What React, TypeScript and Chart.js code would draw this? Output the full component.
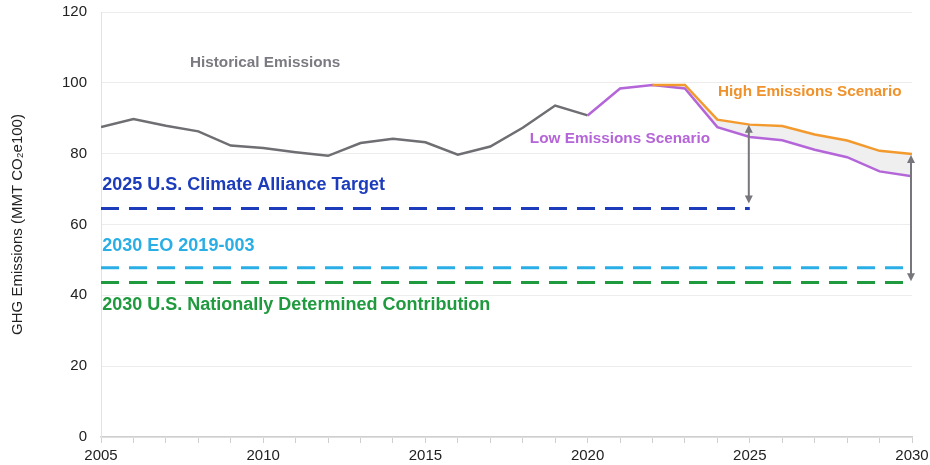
import React, { useEffect, useRef } from 'react';
import { Chart, registerables } from 'chart.js';

Chart.register(...registerables);

// ---- data ----
const historicalYears = [2005, 2006, 2007, 2008, 2009, 2010, 2011, 2012, 2013, 2014, 2015, 2016, 2017, 2018, 2019, 2020];
const historicalValues = [87.5, 89.8, 87.9, 86.3, 82.3, 81.6, 80.4, 79.4, 83.0, 84.2, 83.2, 79.7, 82.0, 87.3, 93.6, 90.8];

const lowYears = [2020, 2021, 2022, 2023, 2024, 2025, 2026, 2027, 2028, 2029, 2030];
const lowValues = [90.8, 98.4, 99.4, 98.4, 87.5, 84.7, 83.8, 81.1, 79.0, 75.0, 73.6];

const highYears = [2022, 2023, 2024, 2025, 2026, 2027, 2028, 2029, 2030];
const highValues = [99.4, 99.4, 89.6, 88.2, 87.8, 85.4, 83.7, 80.8, 79.9];

const seriesNames = ['Historical Emissions', 'High Emissions Scenario', 'Low Emissions Scenario'];

const targetNames = ['2025 U.S. Climate Alliance Target', '2030 EO 2019-003', '2030 U.S. Nationally Determined Contribution'];
const targetValues = [64.5, 47.8, 43.6];
const targetStartYear = 2005;
const targetEndYears = [2025, 2030, 2030];

const gapYears = [2025, 2030];
const gapTops = [88.2, 79.6];
const gapBottoms = [65.9, 44.0];

const yTicks = [0, 20, 40, 60, 80, 100, 120];
const xLabelYears = [2005, 2010, 2015, 2020, 2025, 2030];

// ---- styling / placement (not data) ----
const COLORS = {
  historical: '#6e6e73',
  high: '#f39a2f',
  low: '#b466d9',
  fill: '#efefef',
  target: ['#1c3cbc', '#2aaee6', '#1f9a3e'],
  arrow: '#76767c',
};

const seriesLabelStyle = [
  { x: 2007.74, y: 105.6, color: '#7a7a80', size: 15.3 },
  { x: 2024.02, y: 97.4, color: '#f0922b', size: 15.3 },
  { x: 2018.22, y: 84.1, color: '#b565d8', size: 15.3 },
];
const targetLabelStyle = [
  { x: 2005.04, y: 71.2, size: 18 },
  { x: 2005.04, y: 53.9, size: 18 },
  { x: 2005.04, y: 37.3, size: 18 },
];

const FONT = '"Liberation Sans", Arial, Helvetica, sans-serif';

const pts = (xs: number[], ys: number[]) => xs.map((x, i) => ({ x, y: ys[i] }));

const annotationPlugin = {
  id: 'annotations',
  afterDatasetsDraw(chart: any) {
    const { ctx, scales } = chart;
    const xs = scales.x;
    const ys = scales.y;
    ctx.save();
    // arrows
    ctx.strokeStyle = COLORS.arrow;
    ctx.fillStyle = COLORS.arrow;
    ctx.lineWidth = 2;
    gapYears.forEach((yr, i) => {
      const px = xs.getPixelForValue(yr) - 1;
      const top = ys.getPixelForValue(gapTops[i]);
      const bot = ys.getPixelForValue(gapBottoms[i]);
      const ah = 8;
      const aw = 4;
      ctx.beginPath();
      ctx.moveTo(px, top + ah - 1);
      ctx.lineTo(px, bot - ah + 1);
      ctx.stroke();
      ctx.beginPath();
      ctx.moveTo(px, top);
      ctx.lineTo(px - aw, top + ah);
      ctx.lineTo(px + aw, top + ah);
      ctx.closePath();
      ctx.fill();
      ctx.beginPath();
      ctx.moveTo(px, bot);
      ctx.lineTo(px - aw, bot - ah);
      ctx.lineTo(px + aw, bot - ah);
      ctx.closePath();
      ctx.fill();
    });
    // labels
    ctx.textAlign = 'left';
    ctx.textBaseline = 'middle';
    seriesNames.forEach((name, i) => {
      const s = seriesLabelStyle[i];
      ctx.font = `bold ${s.size}px ${FONT}`;
      ctx.fillStyle = s.color;
      ctx.fillText(name, xs.getPixelForValue(s.x), ys.getPixelForValue(s.y));
    });
    targetNames.forEach((name, i) => {
      const s = targetLabelStyle[i];
      ctx.font = `bold ${s.size}px ${FONT}`;
      ctx.fillStyle = COLORS.target[i];
      ctx.fillText(name, xs.getPixelForValue(s.x), ys.getPixelForValue(s.y));
    });
    ctx.restore();
  },
};

export default function App() {
  const canvasRef = useRef<HTMLCanvasElement | null>(null);

  useEffect(() => {
    if (!canvasRef.current) return;
    const targetDatasets = targetNames.map((name, i) => ({
      label: name,
      data: [
        { x: targetStartYear, y: targetValues[i] },
        { x: targetEndYears[i], y: targetValues[i] },
      ],
      borderColor: COLORS.target[i],
      borderWidth: 3,
      borderDash: [18, 10],
      pointRadius: 0,
      fill: false,
      order: 3,
    }));

    const chart = new Chart(canvasRef.current, {
      type: 'line',
      data: {
        datasets: [
          {
            label: seriesNames[0],
            data: pts(historicalYears, historicalValues),
            borderColor: COLORS.historical,
            borderWidth: 2.5,
            pointRadius: 0,
            fill: false,
            order: 2,
          },
          {
            label: seriesNames[2],
            data: pts(lowYears, lowValues),
            borderColor: COLORS.low,
            borderWidth: 2.5,
            pointRadius: 0,
            fill: false,
            order: 1,
          },
          {
            label: seriesNames[1],
            data: pts(highYears, highValues),
            borderColor: COLORS.high,
            borderWidth: 2.5,
            pointRadius: 0,
            fill: { target: 1, above: COLORS.fill, below: COLORS.fill },
            order: 0,
          },
          ...targetDatasets,
        ],
      },
      options: {
        animation: false,
        responsive: true,
        maintainAspectRatio: false,
        layout: { padding: { top: 12, right: 18, left: 0, bottom: 0 } },
        plugins: {
          legend: { display: false },
          tooltip: { enabled: false },
          filler: { drawTime: 'beforeDatasetsDraw' },
        },
        scales: {
          x: {
            type: 'linear',
            min: 2005,
            max: 2030,
            afterFit: (s: any) => {
              s.height = 28;
              s.paddingLeft = 0;
              s.paddingRight = 0;
            },
            afterBuildTicks: (s: any) => {
              const t = [];
              for (let v = 2005; v <= 2030; v++) t.push({ value: v });
              s.ticks = t;
            },
            ticks: {
              autoSkip: false,
              maxRotation: 0,
              padding: 4,
              color: '#222',
              font: { family: FONT, size: 15 },
              callback: (v: any) => (xLabelYears.includes(Number(v)) ? String(v) : ''),
            },
            grid: {
              display: true,
              drawOnChartArea: false,
              drawTicks: true,
              tickLength: 6,
              color: '#cfcfcf',
              lineWidth: 1,
            },
            border: { display: true, color: '#cfcfcf', width: 1.5 },
          },
          y: {
            min: 0,
            max: 120,
            afterFit: (s: any) => {
              s.width = 101;
              s.paddingTop = 0;
              s.paddingBottom = 0;
            },
            afterBuildTicks: (s: any) => { s.ticks = yTicks.map((v) => ({ value: v })); },
            ticks: {
              padding: 14,
              color: '#222',
              font: { family: FONT, size: 15 },
            },
            grid: { color: '#ececec', drawTicks: false, lineWidth: 1 },
            border: { display: true, color: '#e2e2e2' },
            title: {
              display: true,
              text: 'GHG Emissions (MMT CO₂e100)',
              color: '#222',
              font: { family: FONT, size: 15 },
              padding: { top: 9, bottom: 0 },
            },
          },
        },
      },
      plugins: [annotationPlugin],
    } as any);
    return () => chart.destroy();
  }, []);

  return (
    <div style={{ position: 'fixed', left: 0, top: 0, width: 930, height: 465, background: '#fff' }}>
      <canvas ref={canvasRef} />
    </div>
  );
}
